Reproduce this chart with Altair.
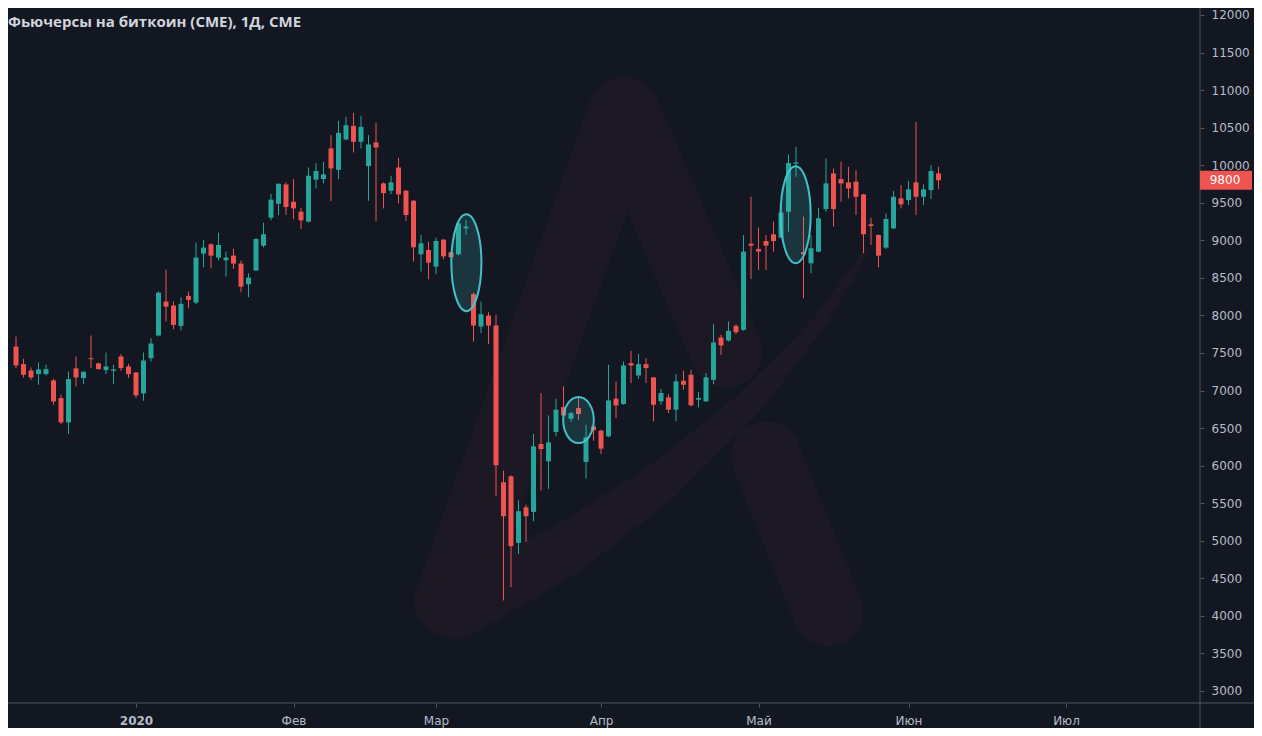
import altair as alt
import pandas as pd

# ---------------- data (CME Bitcoin futures, daily bars, 9 Dec 2019 .. 5 Jun 2020) ----------------
opens = [7586, 7352, 7267, 7219, 7219, 7135, 6900, 6576, 7294, 7166,
         7431, 7361, 7272, 7263, 7454, 7321, 7241, 6962, 7431, 7733,
         8185, 8132, 7860, 8260, 8171, 8823, 8947, 8770, 8734, 8796,
         8690, 8415, 8597, 8929, 9301, 9487, 9744, 9514, 9381, 9248,
         9807, 9816, 10223, 9939, 10343, 10524, 10312, 9988, 10303, 9758,
         9660, 9970, 9660, 9527, 8814, 8871, 8650, 9009, 8840, 8814,
         9159, 8282, 7852, 7998, 7866, 5778, 5858, 4972, 5446, 5384,
         6288, 6058, 6448, 6780, 6625, 6767, 6049, 6523, 6466, 6390,
         6891, 6820, 7365, 7201, 7352, 7175, 6856, 6909, 6745, 7130,
         7210, 6878, 6856, 7143, 7706, 7666, 7861, 7808, 8956, 8885,
         8991, 9080, 9036, 9381, 10020, 8841, 8694, 8849, 9416, 9891,
         9815, 9771, 9780, 9611, 9213, 9071, 8903, 9159, 9558, 9536,
         9771, 9580, 9669, 9891]
highs = [7719, 7423, 7307, 7374, 7343, 7157, 6944, 7254, 7454, 7254,
         7733, 7370, 7507, 7343, 7485, 7356, 7245, 7507, 7697, 8318,
         8610, 8185, 8242, 8318, 8969, 9005, 8960, 9102, 8849, 8889,
         8730, 8561, 9027, 9235, 9616, 9758, 9771, 9815, 9434, 9970,
         10028, 10046, 10400, 10591, 10644, 10697, 10657, 10400, 10564, 9770,
         9860, 10099, 9669, 9536, 9071, 8982, 9035, 9018, 8850, 9240,
         9270, 8304, 8185, 8043, 8007, 5934, 5870, 5539, 5482, 6421,
         6966, 6669, 6891, 7055, 6714, 6909, 6545, 6530, 6479, 7343,
         7121, 7387, 7529, 7489, 7432, 7180, 7024, 6953, 7219, 7263,
         7277, 6980, 7232, 7883, 7742, 7919, 7883, 9071, 9581, 9169,
         9071, 9248, 9470, 10143, 10245, 9315, 9071, 9434, 10090, 9957,
         10046, 9979, 9935, 9620, 9301, 9080, 9359, 9656, 9736, 9789,
         10577, 9745, 10001, 9979]
lows = [7298, 7174, 7143, 7077, 7201, 6811, 6554, 6421, 7055, 7086,
        7299, 7280, 7219, 7086, 7263, 7166, 6900, 6864, 7387, 7720,
        7919, 7817, 7800, 8096, 8150, 8641, 8628, 8734, 8517, 8619,
        8308, 8242, 8592, 8907, 9266, 9337, 9337, 9284, 9151, 9239,
        9691, 9758, 9523, 9815, 10329, 10170, 10223, 9527, 9257, 9425,
        9616, 9492, 9257, 8717, 8584, 8482, 8548, 8747, 8770, 8800,
        9071, 7653, 7764, 7622, 5592, 4206, 4383, 4826, 4985, 5260,
        5668, 5690, 6390, 6678, 6581, 6612, 5827, 6332, 6155, 6380,
        6634, 6811, 7099, 7157, 7099, 6590, 6811, 6700, 6590, 7011,
        6789, 6776, 6850, 7086, 7476, 7653, 7750, 7795, 8486, 8606,
        8606, 8850, 9027, 9115, 9846, 8229, 8561, 8840, 9381, 9182,
        9514, 9558, 9337, 8827, 8938, 8641, 8885, 9151, 9425, 9470,
        9337, 9470, 9550, 9682]
closes = [7334, 7210, 7174, 7281, 7285, 6855, 6576, 7152, 7174, 7250,
          7418, 7285, 7321, 7281, 7299, 7219, 6935, 7400, 7626, 8304,
          8118, 7874, 8154, 8207, 8770, 8903, 8796, 8938, 8770, 8690,
          8384, 8504, 9018, 9080, 9541, 9753, 9443, 9425, 9266, 9860,
          9922, 9878, 9957, 10431, 10533, 10312, 10511, 10276, 10236, 9629,
          9771, 9612, 9337, 8907, 8960, 8703, 8991, 8787, 8774, 9226,
          9182, 7865, 8016, 7865, 6005, 5327, 4928, 5393, 5327, 6257,
          6222, 6310, 6745, 6669, 6700, 6687, 6377, 6470, 6226, 6869,
          6802, 7334, 7334, 7352, 7299, 6811, 6967, 6745, 7122, 7077,
          6803, 6900, 7175, 7640, 7600, 7795, 7777, 8850, 8929, 8850,
          8929, 8991, 9368, 10030, 10037, 8814, 8894, 9293, 9758, 9416,
          9758, 9691, 9580, 9080, 9191, 8796, 9284, 9580, 9479, 9678,
          9580, 9678, 9922, 9800]

# x-axis month ticks (bar index of first trading day) and their labels
tick_idx = [16, 37, 56, 78, 99, 119, 140]
tick_names = ["2020", "Фев", "Мар", "Апр", "Май", "Июн", "Июл"]
price_ticks = list(range(3000, 12001, 500))

# highlighted zones (bar index, price centre)
tall_ell_i = [60.05, 103.95]
tall_ell_p = [8703, 9341]
round_ell_i = [75.0]
round_ell_p = [6607]

# background watermark logo (in chart coordinates)
wm_a_i = [57.9, 81.1, 94.7]
wm_a_p = [4196, 10700, 7520]
wm_sw_i = [58.6, 73.0, 86.2, 98.0, 107.2, 113.5]
wm_sw_p = [4100, 4861, 5792, 6855, 7919, 8876]
wm_sw_w = [62, 52, 40, 27, 14, 6]
wm_bar_i = [100.0, 108.3]
wm_bar_p = [6124, 4063]

title_text = "Фьючерсы на биткоин (CME), 1Д, CME"

# ---------------- build ----------------
W, H = 1192, 695
BG = "#131722"
UP = "#26a69a"
DOWN = "#ef5350"
AXC = "#50545f"
LBL = "#b8bcc6"
WM = "#1d1924"
CYAN = "#45c8d0"
FONT = "DejaVu Sans"

df = pd.DataFrame({"i": list(range(len(opens))), "open": opens, "high": highs,
                   "low": lows, "close": closes})
df["dir"] = ["up" if c >= o else "down" for o, c in zip(opens, closes)]

xs = alt.Scale(domain=[-0.4, 157.2], nice=False, zero=False)
ys = alt.Scale(domain=[2840, 12093], nice=False, zero=False)

label_expr = " : ".join(f"datum.value == {v} ? '{n}'" for v, n in zip(tick_idx, tick_names)) + " : ''"
x_axis = alt.Axis(values=tick_idx, labelExpr=label_expr, title=None, grid=False, domain=False,
                  ticks=True, tickSize=4, tickColor=AXC, labelColor=LBL, labelFont=FONT,
                  labelFontSize=12, labelPadding=8,
                  labelFontWeight={"condition": {"test": f"datum.value == {tick_idx[0]}", "value": "bold"},
                                   "value": "normal"})
y_axis = alt.Axis(values=price_ticks, orient="right", format="d", title=None, grid=False,
                  domain=False, ticks=True, tickSize=4, tickColor=AXC, labelColor=LBL,
                  labelFont=FONT, labelFontSize=12, labelPadding=7)


def X(f):
    return alt.X(f, scale=xs, axis=x_axis)


def Y(f):
    return alt.Y(f, scale=ys, axis=y_axis)


color_enc = alt.Color("dir:N", scale=alt.Scale(domain=["up", "down"], range=[UP, DOWN]), legend=None)

# watermark
wm_a = alt.Chart(pd.DataFrame({"wi": wm_a_i, "wp": wm_a_p, "k": range(len(wm_a_i))})).mark_line(
    color=WM, strokeWidth=72, strokeCap="round", strokeJoin="round").encode(
    x=X("wi:Q"), y=Y("wp:Q"), order="k:Q")
wm_sw = alt.Chart(pd.DataFrame({"wi": wm_sw_i, "wp": wm_sw_p, "w": wm_sw_w, "k": range(len(wm_sw_i))})).mark_trail(
    color=WM).encode(x=X("wi:Q"), y=Y("wp:Q"), size=alt.Size("w:Q", scale=None, legend=None), order="k:Q")
wm_bar = alt.Chart(pd.DataFrame({"wi": wm_bar_i, "wp": wm_bar_p, "k": range(len(wm_bar_i))})).mark_line(
    color=WM, strokeWidth=70, strokeCap="round").encode(x=X("wi:Q"), y=Y("wp:Q"), order="k:Q")

# candles
base = alt.Chart(df)
wicks = base.mark_rule(strokeWidth=1).encode(x=X("i:Q"), y=Y("low:Q"), y2="high:Q", color=color_enc)
bodies = base.mark_bar(size=5).encode(x=X("i:Q"), y=Y("open:Q"), y2="close:Q", color=color_enc)


def ellipse_path(a):
    k = 0.5523
    return (f"M0,-1 C{a*k:.3f},-1 {a:.3f},{-k} {a:.3f},0 C{a:.3f},{k} {a*k:.3f},1 0,1 "
            f"C{-a*k:.3f},1 {-a:.3f},{k} {-a:.3f},0 C{-a:.3f},{-k} {-a*k:.3f},-1 0,-1 Z")


ell_tall = alt.Chart(pd.DataFrame({"ei": tall_ell_i, "ep": tall_ell_p})).mark_point(
    shape=ellipse_path(0.31), size=97 * 97, filled=True, fill=CYAN, fillOpacity=0.17,
    stroke=CYAN, strokeWidth=2, strokeOpacity=0.95, opacity=1).encode(x=X("ei:Q"), y=Y("ep:Q"))
ell_round = alt.Chart(pd.DataFrame({"ei": round_ell_i, "ep": round_ell_p})).mark_point(
    shape=ellipse_path(0.665), size=46 * 46, filled=True, fill=CYAN, fillOpacity=0.17,
    stroke=CYAN, strokeWidth=2, strokeOpacity=0.95, opacity=1).encode(x=X("ei:Q"), y=Y("ep:Q"))

# title
title = alt.Chart(pd.DataFrame({"t": [title_text]})).mark_text(
    align="left", baseline="middle", font="Open Sans", fontWeight="bold", fontSize=15,
    color="#d1d4dc").encode(x=alt.value(0), y=alt.value(14), text="t:N")

# last price label
last = df.tail(1).copy()
last["lbl"] = [f"{v:.0f}" for v in last["close"]]
price_box = alt.Chart(last).mark_point(
    shape="M-1,-0.365 L1,-0.365 L1,0.365 L-1,0.365 Z", size=52 * 52, filled=True,
    fill=DOWN, strokeWidth=0, opacity=1).encode(x=alt.value(W + 26), y=Y("close:Q"))
price_txt = alt.Chart(last).mark_text(
    align="center", baseline="middle", font=FONT, fontSize=12, color="#ffffff").encode(
    x=alt.value(W + 25), y=Y("close:Q"), text="lbl:N")

# panel separators
sep_v = alt.Chart(pd.DataFrame({"a": [0]})).mark_rule(color=AXC, strokeWidth=1).encode(
    x=alt.value(W), y=alt.value(0), y2=alt.value(H + 30))
sep_h = alt.Chart(pd.DataFrame({"a": [0]})).mark_rule(color=AXC, strokeWidth=1).encode(
    y=alt.value(H), x=alt.value(0), x2=alt.value(W + 60))

chart = alt.layer(
    wm_a, wm_sw, wm_bar, wicks, bodies, ell_tall, ell_round, title, sep_v, sep_h, price_box, price_txt
).properties(
    width=W, height=H,
    autosize=alt.AutoSizeParams(type="none"),
    padding={"left": 0, "top": 0, "right": 54, "bottom": 25},
    background=BG,
).configure_view(stroke=None)

chart.save("out.html", embed_options={"renderer": "svg", "actions": False})
